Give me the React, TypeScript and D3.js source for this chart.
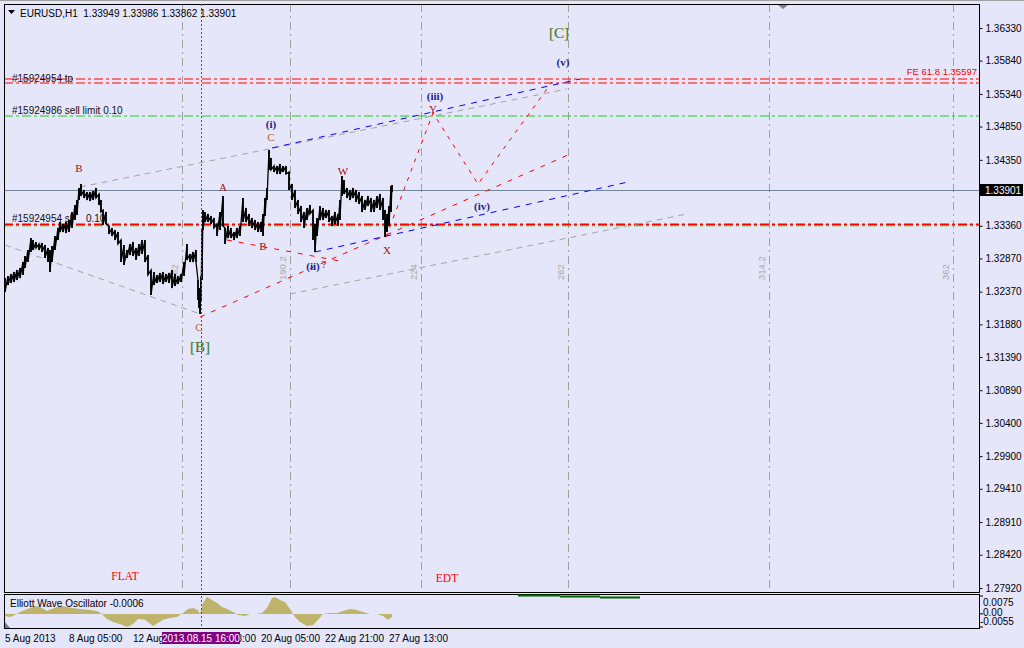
import { useEffect, useRef } from 'react'
import * as d3 from 'd3'

const W = 1024
const H = 648

// header quote
const symbol = 'EURUSD,H1'
const ohlc = [1.33949, 1.33986, 1.33862, 1.33901]
const lastPrice = 1.33901

// hourly bars, index 0 = 5 Aug 2013
const barIndex = [0, 3, 6, 9, 12, 15, 18, 20, 23, 26, 28, 31, 34, 37, 40, 43, 45, 47, 50, 53, 55, 58, 61, 64, 67, 70, 72, 74, 76, 79, 82, 85, 88, 91, 94, 96, 98, 101, 104, 107, 110, 113, 116, 119, 122, 125, 128, 131, 134, 137, 140, 143, 146, 149, 152, 155, 158, 161, 164, 167, 170, 173, 176, 179, 182, 185, 188, 191, 193, 194, 195, 196, 197, 198, 200, 203, 206, 209, 212, 215, 218, 220, 223, 226, 229, 232, 235, 238, 241, 244, 247, 250, 253, 256, 258, 260, 262, 264, 266, 269, 272, 275, 278, 281, 284, 287, 290, 293, 296, 299, 302, 305, 308, 310, 312, 315, 318, 321, 324, 327, 330, 333, 335, 337, 339, 342, 345, 348, 351, 354, 357, 360, 363, 366, 369, 372, 375, 378, 380, 382, 384, 386, 387]
const barHigh = [1.32575, 1.32605, 1.32636, 1.32666, 1.32696, 1.32726, 1.32816, 1.32906, 1.32996, 1.33176, 1.33146, 1.33116, 1.33086, 1.33101, 1.33071, 1.33026, 1.32996, 1.33056, 1.33206, 1.33327, 1.33417, 1.33387, 1.33417, 1.33447, 1.33567, 1.33672, 1.33747, 1.33927, 1.33987, 1.33897, 1.33867, 1.33867, 1.33882, 1.33927, 1.33837, 1.33747, 1.33597, 1.33567, 1.33357, 1.33327, 1.33296, 1.33266, 1.33146, 1.33071, 1.32996, 1.33086, 1.33116, 1.33026, 1.33086, 1.33146, 1.33146, 1.32921, 1.32696, 1.32666, 1.32621, 1.32651, 1.32666, 1.32636, 1.32651, 1.32696, 1.32636, 1.32605, 1.32636, 1.32816, 1.33086, 1.32936, 1.32966, 1.32996, 1.32545, 1.32425, 1.32245, 1.32605, 1.33296, 1.33597, 1.33567, 1.33537, 1.33507, 1.33477, 1.33387, 1.33567, 1.33807, 1.33327, 1.33357, 1.33327, 1.33266, 1.33327, 1.33357, 1.33777, 1.33627, 1.33537, 1.33477, 1.33447, 1.33417, 1.33417, 1.33537, 1.33777, 1.33927, 1.34498, 1.34378, 1.34258, 1.34258, 1.34288, 1.34258, 1.34258, 1.34168, 1.33987, 1.33897, 1.33747, 1.33657, 1.33567, 1.33627, 1.33672, 1.33597, 1.33387, 1.33477, 1.33657, 1.33627, 1.33597, 1.33597, 1.33507, 1.33567, 1.33537, 1.33747, 1.34108, 1.34047, 1.33927, 1.33897, 1.33927, 1.33897, 1.33867, 1.33807, 1.33747, 1.33807, 1.33777, 1.33747, 1.33807, 1.33837, 1.33777, 1.33597, 1.33537, 1.33657, 1.33957, 1.33972]
const barLow = [1.32365, 1.32470, 1.32500, 1.32515, 1.32545, 1.32575, 1.32621, 1.32726, 1.32816, 1.32966, 1.32996, 1.33026, 1.32996, 1.32966, 1.32876, 1.32816, 1.32666, 1.32816, 1.32996, 1.33146, 1.33266, 1.33266, 1.33251, 1.33266, 1.33327, 1.33447, 1.33522, 1.33747, 1.33807, 1.33777, 1.33747, 1.33732, 1.33747, 1.33777, 1.33672, 1.33567, 1.33372, 1.33387, 1.33236, 1.33206, 1.33146, 1.33086, 1.32816, 1.32771, 1.32876, 1.32921, 1.32906, 1.32846, 1.32906, 1.32936, 1.32816, 1.32621, 1.32320, 1.32470, 1.32500, 1.32515, 1.32485, 1.32515, 1.32500, 1.32425, 1.32455, 1.32485, 1.32515, 1.32605, 1.32846, 1.32816, 1.32816, 1.32816, 1.32245, 1.32125, 1.32035, 1.32245, 1.32545, 1.33296, 1.33417, 1.33417, 1.33387, 1.33327, 1.33206, 1.33296, 1.33357, 1.33086, 1.33176, 1.33176, 1.33146, 1.33176, 1.33206, 1.33417, 1.33417, 1.33357, 1.33327, 1.33296, 1.33266, 1.33266, 1.33206, 1.33507, 1.33747, 1.34198, 1.34198, 1.34168, 1.34138, 1.34138, 1.34168, 1.34138, 1.33897, 1.33747, 1.33627, 1.33537, 1.33417, 1.33327, 1.33447, 1.33537, 1.33146, 1.32966, 1.33206, 1.33447, 1.33447, 1.33477, 1.33417, 1.33357, 1.33387, 1.33357, 1.33447, 1.33807, 1.33837, 1.33777, 1.33747, 1.33777, 1.33717, 1.33687, 1.33567, 1.33597, 1.33657, 1.33567, 1.33567, 1.33627, 1.33597, 1.33447, 1.33191, 1.33266, 1.33357, 1.33567, 1.33867]

// price axis (1.33860 sits under the last-price box)
const priceTicks = [1.36330, 1.35840, 1.35340, 1.34850, 1.34350, 1.33360, 1.32870, 1.32370, 1.31880, 1.31390, 1.30890, 1.30400, 1.29900, 1.29410, 1.28910, 1.28420, 1.27920]

// time axis
const timeIndex = [0, 64, 128, 192, 256, 320, 384]
const timeLabels = ['5 Aug 2013', '8 Aug 05:00', '12 Aug 21:00', '15 Aug 13:00', '20 Aug 05:00', '22 Aug 21:00', '27 Aug 13:00']
const crossIndex = 196
const crossLabel = '2013.08.15 16:00'

// order levels
const tpPrices = [1.35564, 1.35504]
const sellLimitPrice = 1.35008
const slPrice = 1.33382
const slLimitPrice = 1.33363
const feLabel = 'FE 61.8 1.35597'

// fibo time zones
const fiboIndex = [177, 285, 416, 563, 764, 948]
const fiboLabels = ['162', '190.2', '224', '262', '314.2', '362']

// trend lines: [index1, price1, index2, price2]
const greyLines = [
  [75, 1.33942, 562, 1.35414],
  [0, 1.33071, 195, 1.32035],
  [285, 1.32335, 682, 1.33537],
]
const blueLines = [
  [267, 1.34528, 575, 1.35564],
  [310, 1.32966, 623, 1.34017],
]
const redLines = [
  [195, 1.31990, 563, 1.34423],
  [222, 1.33146, 340, 1.32816],
]
// projected path X - Y - (iv) - (v)
const waveIndex = [381, 428, 473, 547]
const wavePrice = [1.33191, 1.35054, 1.33987, 1.35519]

// wave labels
const labelText = ['B', 'A', 'B', 'C', 'W', 'X', 'Y', '?', 'C']
const labelIndex = [74, 218, 258, 266, 338, 382, 428, 319, 194]
const labelPrice = [1.34228, 1.33942, 1.33056, 1.34693, 1.34183, 1.32996, 1.35114, 1.32786, 1.31840]
const labelColor = ['#a01010', '#a01010', '#a01010', '#c0600a', '#a01010', '#a01010', '#a01010', '#a01010', '#c0600a']
const circText = ['(i)', '(ii)', '(iii)', '(iv)', '(v)']
const circIndex = [266, 308, 430, 477, 558]
const circPrice = [1.34888, 1.32756, 1.35309, 1.33657, 1.35820]
const degText = ['[B]', '[C]']
const degIndex = [195, 554]
const degPrice = [1.31539, 1.36255]
const patternText = ['FLAT', 'EDT']
const patternIndex = [120, 442]
const patternPrice = [1.28099, 1.28069]

// Elliott Wave Oscillator
const oscName = 'Elliott Wave Oscillator -0.0006'
const oscIndex = [0, 5, 10, 15, 20, 25, 32, 37, 42, 47, 52, 57, 62, 67, 75, 85, 92, 97, 102, 108, 115, 122, 128, 133, 140, 148, 153, 158, 165, 172, 178, 183, 188, 193, 195, 198, 202, 207, 212, 217, 222, 228, 233, 240, 245, 251, 257, 262, 267, 270, 275, 280, 285, 290, 295, 302, 308, 313, 318, 325, 332, 338, 345, 352, 358, 365, 372, 378, 383, 387]
const oscValue = [-0.0009, -0.0013, -0.0005, 0.0008, 0.0016, 0.0025, 0.0033, 0.0025, 0.0012, 0.0021, 0.0029, 0.0033, 0.0029, 0.0025, 0.0021, 0.0016, 0.0012, 0, -0.0021, -0.0034, -0.0042, -0.0055, -0.0042, -0.0021, -0.0025, -0.0051, -0.0038, -0.0025, -0.0017, -0.0013, 0.0004, 0.0021, 0.0025, 0.0016, 0, 0.0046, 0.0071, 0.0058, 0.0046, 0.0029, 0.0021, 0.0008, -0.0005, -0.0009, 0, 0, 0.0004, 0.0025, 0.0067, 0.0071, 0.0058, 0.0050, 0.0021, -0.0013, -0.0034, -0.0051, -0.0047, -0.0025, 0, 0.0004, 0.0004, 0.0012, 0.0021, 0.0016, 0.0008, 0, 0, -0.0009, -0.0025, -0.0013]
const oscTicks = [0.0075, 0.00, -0.0055]
const oscTickLabels = ['0.0075', '0.00', '-0.0055']
const oscSegments = [
  [513, 555, 0.0077],
  [555, 595, 0.0073],
  [595, 635, 0.0069],
]

const SANS = "'Liberation Sans', Arial, sans-serif"
const SERIF = "'Liberation Serif', 'Times New Roman', serif"

function App() {
  const ref = useRef(null)

  useEffect(() => {
    document.body.style.margin = '0'
    draw()
  }, [])

  function draw() {
    const svg = d3.select(ref.current)
    svg.selectAll('*').remove()

    const main = { left: 4, right: 979, top: 4, bottom: 592 }
    const osc = { left: 4, right: 979, top: 594, bottom: 628 }

    const x = d3.scaleLinear().domain([0, 974]).range([5, 979])
    const y = d3.scaleLinear().domain([1.27920, 1.36330]).range([588, 28])
    const yo = d3.scaleLinear().domain([-0.0055, 0.0075]).range([627, 596])

    svg.append('rect').attr('width', W).attr('height', H).attr('fill', '#e6e6fa')
    svg.append('line').attr('x1', 0).attr('x2', W).attr('y1', 0.5).attr('y2', 0.5).attr('stroke', '#a0a0a0')

    const defs = svg.append('defs')
    defs.append('clipPath').attr('id', 'clip-main').append('rect')
      .attr('x', main.left).attr('y', main.top)
      .attr('width', main.right - main.left).attr('height', main.bottom - main.top)
    defs.append('clipPath').attr('id', 'clip-osc').append('rect')
      .attr('x', osc.left).attr('y', osc.top)
      .attr('width', osc.right - osc.left).attr('height', osc.bottom - osc.top)

    const g = svg.append('g').attr('clip-path', 'url(#clip-main)')

    // fibo time zones
    fiboIndex.forEach((fi, i) => {
      g.append('line')
        .attr('x1', x(fi) + 0.5).attr('x2', x(fi) + 0.5)
        .attr('y1', main.top).attr('y2', main.bottom)
        .attr('stroke', '#a0a0a0').attr('stroke-dasharray', '8,4,2,4')
      g.append('text')
        .attr('transform', `translate(${x(fi) - 4},280) rotate(-90)`)
        .attr('font-family', SANS).attr('font-size', 9.5)
        .attr('fill', '#a8a8a8')
        .text(fiboLabels[i])
    })

    // order lines
    const hline = (p, color, width, dash) => {
      g.append('line')
        .attr('x1', main.left).attr('x2', main.right)
        .attr('y1', y(p)).attr('y2', y(p))
        .attr('stroke', color).attr('stroke-width', width)
        .attr('stroke-dasharray', dash)
    }
    hline(sellLimitPrice, '#22cc22', 1, '9,3,3,3')
    hline(slLimitPrice, '#22cc22', 1.2, '9,3,3,3')
    hline(slPrice, '#ff0000', 1.6, '9,3,3,3')
    tpPrices.forEach(p => hline(p, '#ff0000', 1.2, '9,3,3,3'))

    // current price line
    g.append('line')
      .attr('x1', main.left).attr('x2', main.right)
      .attr('y1', Math.round(y(lastPrice)) + 0.5).attr('y2', Math.round(y(lastPrice)) + 0.5)
      .attr('stroke', '#74849a')

    const seg = (arr, color, dash) => {
      g.selectAll(null).data(arr).join('line')
        .attr('x1', d => x(d[0])).attr('y1', d => y(d[1]))
        .attr('x2', d => x(d[2])).attr('y2', d => y(d[3]))
        .attr('stroke', color).attr('stroke-width', 1)
        .attr('stroke-dasharray', dash)
    }
    seg(greyLines, '#a4a4a4', '6,5')
    seg(redLines, '#ff0000', '5,7')
    seg(blueLines, '#0000ff', '6,6')

    g.append('path')
      .attr('d', d3.line()(waveIndex.map((wi, i) => [x(wi), y(wavePrice[i])])))
      .attr('fill', 'none').attr('stroke', '#ff0000')
      .attr('stroke-dasharray', '4,6')

    // price bars
    const pts = []
    barIndex.forEach((bi, i) => {
      pts.push([x(bi), y(barHigh[i])])
      pts.push([x(bi), y(barLow[i])])
    })
    g.append('path')
      .attr('d', d3.line()(pts))
      .attr('fill', 'none').attr('stroke', '#000').attr('stroke-width', 1.3)
    g.selectAll('line.bar').data(barIndex).join('line')
      .attr('class', 'bar')
      .attr('x1', d => x(d)).attr('x2', d => x(d))
      .attr('y1', (d, i) => y(barHigh[i])).attr('y2', (d, i) => y(barLow[i]))
      .attr('stroke', '#000').attr('stroke-width', 1.6)

    // order texts
    const otext = (tx, ty, s, color = '#111') => {
      g.append('text').attr('x', tx).attr('y', ty)
        .attr('font-family', SANS).attr('font-size', 10)
        .attr('fill', color).style('white-space', 'pre').text(s)
    }
    otext(12, y(tpPrices[0]) + 3, '#15924954 tp')
    otext(12, y(sellLimitPrice) - 2, '#15924986 sell limit 0.10')
    otext(12, y(slPrice) - 2, '#15924954 sl     0.10')
    g.append('text').attr('x', 977).attr('y', y(tpPrices[0]) - 4)
      .attr('text-anchor', 'end')
      .attr('font-family', SANS).attr('font-size', 9.5)
      .attr('fill', '#ff0000').text(feLabel)

    // wave labels
    labelText.forEach((t, i) => {
      g.append('text').attr('x', x(labelIndex[i])).attr('y', y(labelPrice[i]) + 4)
        .attr('text-anchor', 'middle')
        .attr('font-family', SERIF).attr('font-size', 11)
        .attr('fill', labelColor[i]).text(t)
    })
    circText.forEach((t, i) => {
      g.append('text').attr('x', x(circIndex[i])).attr('y', y(circPrice[i]) + 4)
        .attr('text-anchor', 'middle')
        .attr('font-family', SERIF).attr('font-size', 11).attr('font-weight', 'bold')
        .attr('fill', '#23238e').text(t)
    })
    degText.forEach((t, i) => {
      g.append('text').attr('x', x(degIndex[i])).attr('y', y(degPrice[i]) + 5)
        .attr('text-anchor', 'middle')
        .attr('font-family', SERIF).attr('font-size', 15)
        .attr('fill', '#2e7d32').attr('stroke', '#8a7a20').attr('stroke-width', 0.2)
        .text(t)
    })
    patternText.forEach((t, i) => {
      g.append('text').attr('x', x(patternIndex[i])).attr('y', y(patternPrice[i]) + 4)
        .attr('text-anchor', 'middle')
        .attr('font-family', SERIF).attr('font-size', 11.5)
        .attr('fill', '#ff0000').text(t)
    })

    // header
    svg.append('path').attr('d', 'M8,10 L15,10 L11.5,14 Z').attr('fill', '#000')
    svg.append('text').attr('x', 20).attr('y', 16.5)
      .attr('font-family', SANS).attr('font-size', 10).attr('fill', '#000')
      .style('white-space', 'pre')
      .text(`${symbol}  ${ohlc.map(d => d.toFixed(5)).join(' ')}`)

    // top shift marker
    svg.append('path').attr('d', 'M778,5 L788,5 L783,9 Z').attr('fill', '#808080')

    // panels
    svg.append('rect').attr('x', main.left + 0.5).attr('y', main.top + 0.5)
      .attr('width', main.right - main.left).attr('height', main.bottom - main.top)
      .attr('fill', 'none').attr('stroke', '#000')
    svg.append('rect').attr('x', osc.left + 0.5).attr('y', osc.top + 0.5)
      .attr('width', osc.right - osc.left).attr('height', osc.bottom - osc.top)
      .attr('fill', 'none').attr('stroke', '#000')

    // price axis
    const axis = svg.append('g').attr('transform', `translate(${main.right + 0.5},0)`)
      .call(d3.axisRight(y).tickValues(priceTicks).tickSize(3).tickPadding(3).tickFormat(d3.format('.5f')))
    axis.select('.domain').remove()
    axis.selectAll('text').attr('font-family', SANS).attr('font-size', 10).attr('fill', '#000')
    axis.selectAll('line').attr('stroke', '#000')

    const py = Math.round(y(lastPrice))
    svg.append('rect').attr('x', 980).attr('y', py - 6).attr('width', 43).attr('height', 12).attr('fill', '#000')
    svg.append('text').attr('x', 985).attr('y', py + 4)
      .attr('font-family', SANS).attr('font-size', 10).attr('fill', '#fff')
      .text(lastPrice.toFixed(5))

    // oscillator
    const og = svg.append('g').attr('clip-path', 'url(#clip-osc)')
    og.append('path')
      .attr('d', d3.area().x(d => x(d[0])).y0(yo(0)).y1(d => yo(d[1]))(oscIndex.map((oi, i) => [oi, oscValue[i]])))
      .attr('fill', '#bdb36b')
    og.selectAll('line.seg').data(oscSegments).join('line')
      .attr('class', 'seg')
      .attr('x1', d => x(d[0])).attr('x2', d => x(d[1]))
      .attr('y1', d => yo(d[2])).attr('y2', d => yo(d[2]))
      .attr('stroke', '#006400').attr('stroke-width', 2)
    og.append('path').attr('d', 'M5,622 L5,628 L10,628 Z').attr('fill', '#708090')
    svg.append('text').attr('x', 10).attr('y', 607)
      .attr('font-family', SANS).attr('font-size', 10).attr('fill', '#000')
      .text(oscName)
    const oscLabelY = [602, 612, 621]
    oscTicks.forEach((v, i) => {
      svg.append('line').attr('x1', 980).attr('x2', 983).attr('y1', yo(v)).attr('y2', yo(v)).attr('stroke', '#000')
      svg.append('text').attr('x', i === 2 ? 980 : 983).attr('y', oscLabelY[i] + 3.5)
        .attr('font-family', SANS).attr('font-size', 10).attr('fill', '#000')
        .text(oscTickLabels[i])
    })

    // time axis
    timeIndex.forEach((ti, i) => {
      svg.append('text').attr('x', x(ti)).attr('y', 641.5)
        .attr('font-family', SANS).attr('font-size', 10).attr('fill', '#000')
        .text(timeLabels[i])
    })

    // crosshair
    svg.append('line')
      .attr('x1', x(crossIndex) + 0.5).attr('x2', x(crossIndex) + 0.5)
      .attr('y1', main.top).attr('y2', osc.bottom)
      .attr('stroke', '#a020a0').attr('stroke-dasharray', '2,2')
    svg.append('rect').attr('x', x(crossIndex) - 39).attr('y', 632).attr('width', 78).attr('height', 12).attr('fill', '#800080')
    svg.append('text').attr('x', x(crossIndex)).attr('y', 641.5)
      .attr('text-anchor', 'middle')
      .attr('font-family', SANS).attr('font-size', 10).attr('fill', '#fff')
      .text(crossLabel)
  }

  return (
    <svg ref={ref} width={W} height={H} style={{ display: 'block' }}></svg>
  )
}

export default App
